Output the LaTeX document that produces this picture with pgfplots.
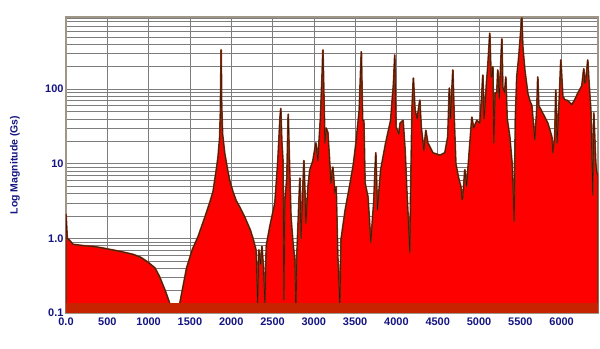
\documentclass[border=0pt]{standalone}
\usepackage{pgfplots}
\pgfplotsset{compat=1.18}
\usepackage{pgfplotstable}
\usepackage{fontspec}
\setmainfont{Liberation Sans}
\usetikzlibrary{calc}

\definecolor{tickblue}{RGB}{20,20,130}
\definecolor{gridgray}{RGB}{125,125,125}
\definecolor{bordercol}{RGB}{160,150,135}
\definecolor{specred}{RGB}{255,0,0}
\definecolor{edgebrown}{RGB}{135,45,15}
\definecolor{edgedark}{RGB}{50,20,5}
\definecolor{stripred}{RGB}{200,35,0}

\pgfplotstableread{
x y
0 0.08
0 2.1
15 1.0
40 0.95
85 0.83
200 0.8
327 0.78
450 0.74
532 0.71
650 0.67
811 0.61
900 0.56
992 0.48
1077 0.40
1130 0.31
1200 0.2
1250 0.14
1283 0.1
1300 0.09
1340 0.09
1355 0.1
1400 0.18
1460 0.4
1530 0.71
1600 1.06
1680 1.9
1740 3.0
1780 4.2
1810 7
1840 12
1860 22
1870 50
1878 334
1884 60
1895 25
1920 14
1950 9
1980 6
2021 4.2
2060 3.2
2105 2.6
2166 1.9
2230 1.3
2263 1.0
2300 0.7
2320 0.13
2335 0.7
2355 0.45
2372 0.78
2390 0.4
2408 0.13
2425 0.8
2468 1.45
2529 3.0
2565 11
2590 40
2600 55
2612 20
2626 11
2638 0.15
2650 3
2674 6.6
2690 46
2705 10
2723 1.95
2747 0.88
2770 0.5
2783 0.1
2795 0.6
2831 6.4
2845 1.0
2880 11
2904 1.6
2930 5
2952 8.3
2989 11
3025 19
3049 11
3080 40
3100 150
3110 334
3120 100
3134 19
3150 30
3170 26
3207 5.5
3230 9
3255 4
3270 4.9
3290 0.57
3315 0.12
3330 0.97
3380 2.4
3440 5.5
3480 10
3510 19
3550 52
3575 316
3590 38
3605 38
3620 5.5
3655 3.6
3690 0.88
3725 3.0
3750 14
3770 2.4
3810 8.3
3870 19
3930 38
3965 120
3980 286
3995 31
4030 25
4045 35
4080 38
4105 15
4125 4.5
4162 0.65
4175 6
4190 60
4205 140
4225 52
4250 40
4283 71
4300 31
4332 15
4356 28
4380 19
4441 14
4525 13
4586 14
4622 23
4640 103
4655 40
4683 180
4700 38
4719 10
4750 6.6
4780 4.9
4795 3.3
4804 3.6
4828 8.3
4850 5
4876 12
4913 42
4935 30
4973 38
5010 35
5034 88
5046 154
5060 40
5070 52
5090 120
5106 200
5130 560
5145 150
5155 145
5167 200
5179 19
5195 88
5215 90
5227 180
5245 75
5276 470
5288 105
5310 90
5324 145
5340 40
5372 23
5400 10
5425 1.7
5440 40
5457 145
5481 270
5518 900
5530 365
5554 180
5590 88
5614 70
5639 60
5651 42
5675 21
5699 52
5711 145
5723 60
5760 50
5796 42
5832 35
5881 23
5893 14
5917 23
5929 97
5945 19
5965 50
5990 245
6014 80
6038 72
6074 70
6123 62
6159 72
6195 88
6244 110
6268 187
6280 120
6292 125
6316 245
6328 140
6353 52
6377 3.8
6389 48
6413 10
6425 7.6
6440 7
6440 0.08
}\spec

\begin{document}
\begin{tikzpicture}
\begin{axis}[
  name=ax,
  scale only axis, width=532bp, height=296bp,
  ymode=log,
  xmin=0, xmax=6440, ymin=0.1, ymax=925,
  xtick={0,500,1000,1500,2000,2500,3000,3500,4000,4500,5000,5500,6000},
  xticklabels={0.0,500,1000,1500,2000,2500,3000,3500,4000,4500,5000,5500,6000},
  ytick={0.1,1,10,100},
  yticklabels={0.1,1.0,10,100},
  minor ytick={0.2,0.3,0.4,0.5,0.6,0.7,0.8,0.9,2,3,4,5,6,7,8,9,20,30,40,50,60,70,80,90,200,300,400,500,600,700,800,900},
  xmajorgrids, ymajorgrids, yminorgrids,
  major grid style={draw=gridgray, line width=0.5pt},
  minor grid style={draw=gridgray, line width=0.5pt},
  tick style={draw=none},
  axis line style={draw=bordercol, line width=1.2pt},
  ticklabel style={font=\fontsize{11}{13}\selectfont\bfseries, text=tickblue},
  xticklabel style={yshift=-1bp},
  yticklabel style={xshift=1bp},
  ylabel={Log Magnitude (Gs)},
  ylabel style={font=\fontsize{10.5}{12}\selectfont\bfseries, text=tickblue, at={(axis description cs:-0.0959,0.5)}, anchor=center},
]
\addplot[fill=specred, draw=edgebrown, line width=1.8pt, line join=round] table {\spec};
\addplot[draw=edgedark, line width=0.45pt, line join=round] table {\spec};
\addplot[fill=stripred, draw=none] coordinates {(0,0.1) (6440,0.1) (6440,0.136) (0,0.136)};
\end{axis}
\pgfresetboundingbox
\path ($(ax.south west)+(-66bp,-36bp)$) rectangle ($(ax.north east)+(2bp,17bp)$);
\end{tikzpicture}
\end{document}
